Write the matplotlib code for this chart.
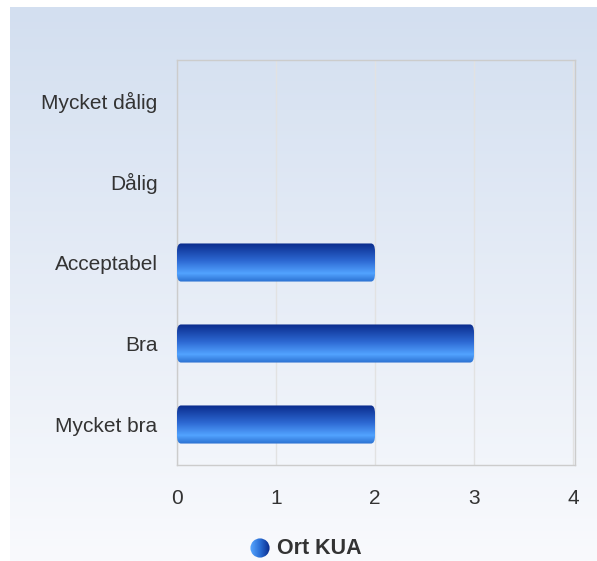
import numpy as np
import matplotlib
matplotlib.use("Agg")
import matplotlib.pyplot as plt
from matplotlib.colors import LinearSegmentedColormap
from matplotlib.patches import FancyBboxPatch, Circle

plt.rcParams['font.family'] = ['Liberation Sans', 'DejaVu Sans']

# data
categories = ['Mycket dålig', 'Dålig', 'Acceptabel', 'Bra', 'Mycket bra']
values = [0, 0, 2, 3, 2]
series_name = 'Ort KUA'
x_ticks = [0, 1, 2, 3, 4]

W, H = 597, 561
fig = plt.figure(figsize=(W / 100, H / 100), dpi=100)
fig.patch.set_facecolor('white')

# background panel gradient
bg = fig.add_axes([10 / W, 0, (W - 10) / W, (H - 7) / H], zorder=0)
bg_cmap = LinearSegmentedColormap.from_list('bg', ['#d3dff0', '#f9fafd'])
bg.imshow(np.linspace(0, 1, 256).reshape(-1, 1), aspect='auto', cmap=bg_cmap,
          extent=[0, 1, 0, 1], origin='upper')
bg.set_axis_off()

ax = fig.add_axes([177 / W, 1 - 465 / H, 398 / W, 405 / H], zorder=1)
ax.patch.set_alpha(0)

y = np.arange(len(categories))
bars = ax.barh(y, values, height=0.47, color='none', edgecolor='none')

bar_cmap = LinearSegmentedColormap.from_list(
    'bar', [(0, '#0a2b8c'), (0.45, '#2d68d2'), (0.78, '#52a3ff'), (1, '#2a6fd0')])
grad = np.linspace(0, 1, 128).reshape(-1, 1)
for rect in bars:
    w = rect.get_width()
    if w <= 0:
        continue
    x0, y0, h = rect.get_x(), rect.get_y(), rect.get_height()
    clip = FancyBboxPatch((x0, y0), w, h, boxstyle='round,pad=0,rounding_size=0.04',
                          mutation_aspect=2.5, transform=ax.transData,
                          facecolor='none', edgecolor='none')
    ax.add_patch(clip)
    im = ax.imshow(grad, aspect='auto', cmap=bar_cmap, extent=[x0, x0 + w, y0 + h, y0],
                   origin='upper', zorder=3)
    im.set_clip_path(clip)

ax.set_xlim(0, 4.02)
ax.set_ylim(len(categories) - 0.5, -0.5)
ax.set_xticks(x_ticks)
ax.set_yticks(y)
ax.set_yticklabels(categories)
ax.tick_params(axis='both', length=0, labelsize=15, labelcolor='#333333')
ax.tick_params(axis='x', pad=17)
ax.tick_params(axis='y', pad=14)
ax.grid(axis='x', color='#e2e2e2', linewidth=1)
ax.set_axisbelow(True)
for s in ax.spines.values():
    s.set_color('#cccccc')
    s.set_linewidth(1)

# legend: gradient circle marker + bold label
lax = fig.add_axes([250 / W, 1 - 558 / H, 20 / W, 20 / H], zorder=2)
lax.set_axis_off()
leg_cmap = LinearSegmentedColormap.from_list('leg', ['#5aa8ff', '#2a6fd6', '#0a2b8c'])
circ = Circle((0.5, 0.5), 0.48, transform=lax.transAxes, facecolor='none', edgecolor='none')
lax.add_patch(circ)
lim = lax.imshow(np.linspace(0, 1, 64).reshape(1, -1), aspect='auto', cmap=leg_cmap,
                 extent=[0, 1, 0, 1])
lim.set_clip_path(circ)
lax.set_xlim(0, 1)
lax.set_ylim(0, 1)
fig.text(277 / W, 1 - 549 / H, series_name, fontsize=15.5, fontweight='bold',
         color='#333333', va='center', ha='left')

fig.savefig('out.png', dpi=100)
